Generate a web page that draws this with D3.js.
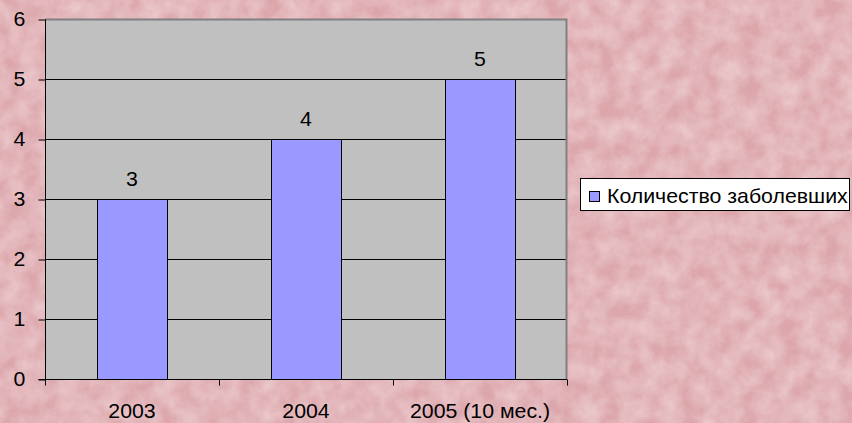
<!DOCTYPE html>
<html><head><meta charset="utf-8">
<script src="https://cdn.jsdelivr.net/npm/d3@7"></script>
<style>html,body{margin:0;padding:0;background:#e2adb1;}svg{display:block;}</style>
</head><body>
<svg id="c" width="852" height="423"></svg>
<script>
const categories = ["2003", "2004", "2005 (10 мес.)"];
const values = [3, 4, 5];
const seriesName = "Количество заболевших";
const yTicks = [0, 1, 2, 3, 4, 5, 6];

const svg = d3.select("#c");
const W = 852, H = 423;
const font = "'Liberation Sans', Arial, sans-serif";
const fs = 20, sx = 1.065;

// background with marble-like texture
const defs = svg.append("defs");
const f = defs.append("filter").attr("id", "marble").attr("x", 0).attr("y", 0).attr("width", "100%").attr("height", "100%");
f.append("feTurbulence").attr("type", "fractalNoise").attr("baseFrequency", 0.05).attr("numOctaves", 5).attr("seed", 7).attr("result", "n");
f.append("feColorMatrix").attr("in", "n").attr("type", "matrix")
  .attr("values", "0 0 0 0 0.93  0 0 0 0 0.76  0 0 0 0 0.78  0 0 0 -0.8 0.62").attr("result", "c");
f.append("feComposite").attr("in", "c").attr("in2", "SourceGraphic").attr("operator", "over");
svg.append("rect").attr("width", W).attr("height", H).attr("fill", "#dca6ab");
svg.append("rect").attr("width", W).attr("height", H).attr("fill", "#dca6ab").attr("filter", "url(#marble)");

const m = {left: 45, top: 19, right: 567, bottom: 379};
const x = d3.scaleBand().domain(categories).range([m.left, m.right]).paddingInner(0).paddingOuter(0);
const y = d3.scaleLinear().domain([0, 6]).range([m.bottom, m.top]);

// plot area
svg.append("rect").attr("x", m.left).attr("y", m.top).attr("width", m.right - m.left).attr("height", m.bottom - m.top)
  .attr("fill", "#c0c0c0");

// gridlines
svg.append("g").selectAll("line").data(yTicks.filter(t => t > 0 && t < 6)).join("line")
  .attr("x1", m.left).attr("x2", m.right)
  .attr("y1", d => Math.round(y(d)) + 0.5).attr("y2", d => Math.round(y(d)) + 0.5)
  .attr("stroke", "#000").attr("stroke-width", 1);

// plot border top/right gray
svg.append("path").attr("d", `M${m.left},${m.top + 0.5}H${m.right - 0.5}V${m.bottom}`)
  .attr("fill", "none").attr("stroke", "#808080").attr("stroke-width", 2);

// bars
const bw = x.bandwidth() * 0.4;
svg.append("g").selectAll("rect").data(values).join("rect")
  .attr("x", (d, i) => Math.round(x(categories[i]) + (x.bandwidth() - bw) / 2) + 0.5)
  .attr("y", d => Math.round(y(d)) + 0.5)
  .attr("width", Math.round(bw))
  .attr("height", d => Math.round(y(0)) - Math.round(y(d)))
  .attr("fill", "#9999ff").attr("stroke", "#000").attr("stroke-width", 1);

// value labels
svg.append("g").selectAll("text").data(values).join("text")
  .attr("transform", (d, i) => `translate(${x(categories[i]) + x.bandwidth() / 2},${y(d) - 13}) scale(${sx},1)`)
  .attr("text-anchor", "middle")
  .attr("font-family", font).attr("font-size", fs).attr("fill", "#000")
  .text(d => d);

// y axis
const yAxis = d3.axisLeft(y).tickValues(yTicks).tickSize(7).tickPadding(12).tickFormat(d3.format("d"));
const gy = svg.append("g").attr("transform", `translate(${m.left + 0.5},0.5)`).call(yAxis);
gy.select(".domain").attr("stroke", "#000").attr("d", `M-7,${m.bottom}H0V${m.top}`);
gy.selectAll(".tick line").attr("stroke", "#000");
gy.selectAll(".tick text").attr("font-family", font).attr("font-size", fs).attr("fill", "#000")
  .attr("transform", `scale(${sx},1)`);

// x axis
const xAxis = d3.axisBottom(x).tickSize(0).tickPadding(24);
const gx = svg.append("g").attr("transform", `translate(0,${m.bottom + 0.5})`).call(xAxis);
gx.select(".domain").attr("stroke", "#000").attr("d", `M${m.left},0H${m.right}`);
gx.selectAll(".tick text").attr("font-family", font).attr("font-size", fs).attr("fill", "#000")
  .attr("transform", `scale(${sx},1)`);
// category boundary ticks
const bounds = categories.map(c => x(c)).concat([x.range()[1]]);
gx.append("g").selectAll("line").data(bounds).join("line")
  .attr("x1", d => Math.round(d) + 0.5).attr("x2", d => Math.round(d) + 0.5)
  .attr("y1", 0).attr("y2", 6).attr("stroke", "#000");

// legend
const lg = svg.append("g");
lg.append("rect").attr("x", 580.5).attr("y", 178.5).attr("width", 269).attr("height", 32)
  .attr("fill", "#fff").attr("stroke", "#000").attr("stroke-width", 1);
lg.append("rect").attr("x", 589.5).attr("y", 191.5).attr("width", 10).attr("height", 10)
  .attr("fill", "#9999ff").attr("stroke", "#000");
lg.append("text").attr("transform", `translate(607,203) scale(${sx},1)`)
  .attr("font-family", font).attr("font-size", fs).attr("fill", "#000").text(seriesName);
</script>
</body></html>
